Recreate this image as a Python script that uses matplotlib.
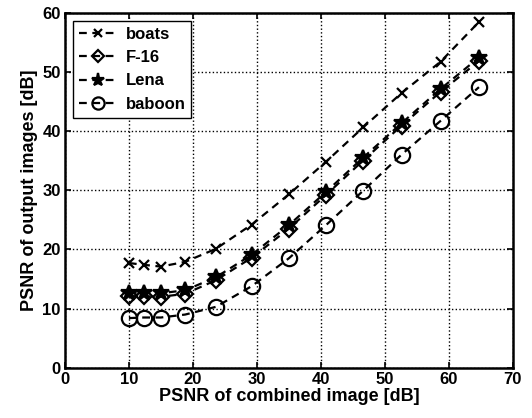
import matplotlib
matplotlib.use("Agg")
import matplotlib.pyplot as plt

plt.rcParams['font.family'] = ['Liberation Sans', 'DejaVu Sans']
plt.rcParams['font.weight'] = 'bold'

# PSNR of the combined image (x) and of the extracted output images (y), in dB
psnr_combined = [10.0, 12.3, 15.0, 18.8, 23.6, 29.2, 35.0, 40.8, 46.6, 52.6, 58.7, 64.7]
boats = [17.7, 17.4, 17.1, 17.9, 20.1, 24.2, 29.3, 34.8, 40.6, 46.4, 51.7, 58.4]
f16 = [12.1, 12.1, 12.0, 12.5, 14.8, 18.6, 23.5, 29.2, 35.0, 40.9, 46.6, 51.8]
lena = [12.7, 12.7, 12.6, 13.1, 15.3, 19.1, 24.1, 29.7, 35.5, 41.3, 47.1, 52.4]
baboon = [8.4, 8.5, 8.5, 9.0, 10.3, 13.8, 18.5, 24.1, 29.9, 36.0, 41.7, 47.4]

x_ticks = [0, 10, 20, 30, 40, 50, 60, 70]
y_ticks = [0, 10, 20, 30, 40, 50, 60]

fig = plt.figure(figsize=(5.32, 4.18), dpi=100)
ax = fig.add_axes([0.122, 0.120, 0.842, 0.850])

style = dict(color='black', linestyle=(0, (3.5, 2.5)), linewidth=1.6, markerfacecolor='none',
             markeredgecolor='black', markeredgewidth=1.6)
ax.plot(psnr_combined, boats, marker='x', markersize=7.5, label='boats', **style)
ax.plot(psnr_combined, f16, marker='D', markersize=8, label='F-16', **style)
lena_style = dict(style)
lena_style['markerfacecolor'] = 'black'
ax.plot(psnr_combined, lena, marker='*', markersize=12, label='Lena', **lena_style)
ax.plot(psnr_combined, baboon, marker='o', markersize=11, label='baboon', **style)

ax.set_xlim(0, 70)
ax.set_ylim(0, 60)
ax.set_xticks(x_ticks)
ax.set_yticks(y_ticks)
ax.tick_params(direction='in', top=True, right=True, labelsize=12, length=4, width=1.2, pad=3)
for lbl in ax.get_xticklabels() + ax.get_yticklabels():
    lbl.set_fontweight('bold')
ax.grid(True, color='black', linestyle=':', linewidth=1.0)
for sp in ax.spines.values():
    sp.set_linewidth(1.8)

ax.set_xlabel('PSNR of combined image [dB]', fontsize=13, fontweight='bold', labelpad=1)
ax.set_ylabel('PSNR of output images [dB]', fontsize=13, fontweight='bold', labelpad=3)

leg = ax.legend(loc='upper left', fontsize=12, fancybox=False, framealpha=1,
                edgecolor='black', borderaxespad=0.5, handlelength=2.3,
                handletextpad=0.5, labelspacing=0.5, borderpad=0.35, markerscale=0.8)
leg.get_frame().set_linewidth(1.0)
for t in leg.get_texts():
    t.set_fontweight('bold')

fig.savefig('out.png', dpi=100, facecolor='white')
